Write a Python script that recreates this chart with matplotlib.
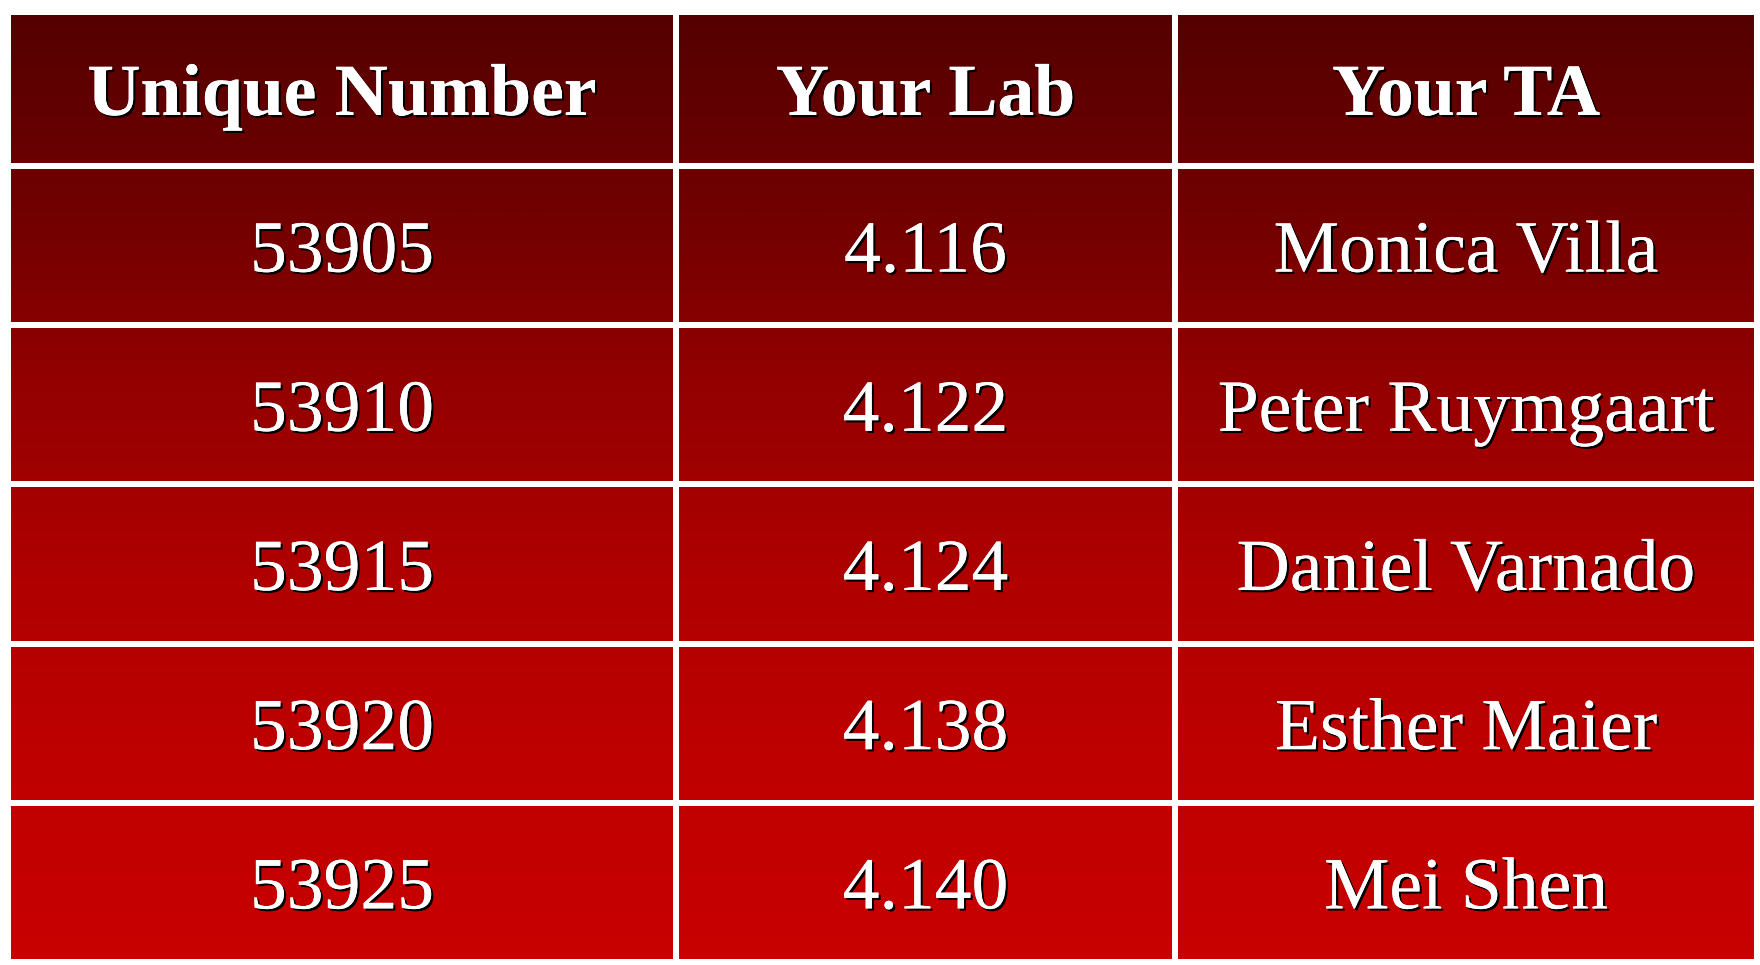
import matplotlib.pyplot as plt
import matplotlib.patheffects as pe
import numpy as np
from matplotlib.colors import LinearSegmentedColormap
from matplotlib.patches import Rectangle

headers = ['Unique Number', 'Your Lab', 'Your TA']
unique_numbers = ['53905', '53910', '53915', '53920', '53925']
labs = ['4.116', '4.122', '4.124', '4.138', '4.140']
tas = ['Monica Villa', 'Peter Ruymgaart', 'Daniel Varnado', 'Esther Maier', 'Mei Shen']

# table geometry in pixels
left, right = 11, 1754
sep_x = [673, 1172]          # left edge of each white column separator
gap = 6
top, header_bottom, bottom = 15, 163, 959

fig = plt.figure(figsize=(17.6, 9.65), dpi=100)
ax = fig.add_axes([0, 0, 1, 1])
ax.set_xlim(0, 1760)
ax.set_ylim(965, 0)
ax.axis('off')

# vertical red gradient behind the whole table
cmap = LinearSegmentedColormap.from_list('reds', [
    (0.0, '#550000'), (0.2, '#700000'), (0.4, '#950000'),
    (0.6, '#b00000'), (0.8, '#bf0000'), (1.0, '#c80000')])
grad = np.linspace(0, 1, 256).reshape(-1, 1)
ax.imshow(grad, cmap=cmap, aspect='auto', extent=(left, right, bottom, top),
          origin='upper', interpolation='bilinear')

# row edges
n = len(unique_numbers)
row_h = (bottom - header_bottom - gap * n) / n
row_tops = [header_bottom + gap + i * (row_h + gap) for i in range(n)]

# white separators
for y in [header_bottom] + [t + row_h for t in row_tops[:-1]]:
    ax.add_patch(Rectangle((left, y), right - left, gap, color='white', lw=0))
for x in sep_x:
    ax.add_patch(Rectangle((x, top), gap, bottom - top, color='white', lw=0))

shadow = [pe.withSimplePatchShadow(offset=(1.6, -1.6), shadow_rgbFace='black', alpha=1.0), pe.Normal()]
bounds = [left] + sep_x + [right]
centers = [(bounds[0] + bounds[1]) / 2,
           (bounds[1] + gap + bounds[2]) / 2,
           (bounds[2] + gap + bounds[3]) / 2]

def put(x, y_mid, s, bold=False):
    ax.text(x, y_mid + 26, s, ha='center', va='baseline', color='white',
            fontsize=53, family='Liberation Serif', fontweight='bold' if bold else 'normal',
            path_effects=shadow)

for c, h in zip(centers, headers):
    put(c, (top + header_bottom) / 2, h, bold=True)

for i in range(n):
    ym = row_tops[i] + row_h / 2
    put(centers[0], ym, unique_numbers[i])
    put(centers[1], ym, labs[i])
    put(centers[2], ym, tas[i])

fig.savefig('out.png', dpi=100, facecolor='white')
